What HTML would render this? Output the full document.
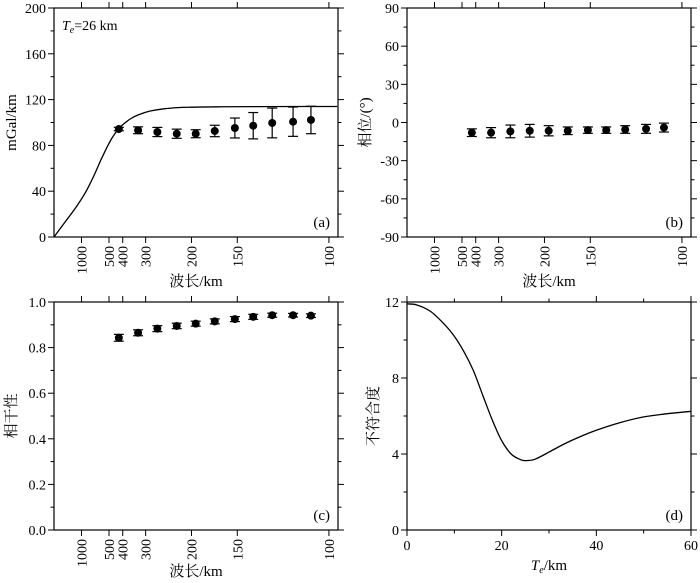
<!DOCTYPE html>
<html><head><meta charset="utf-8"><style>
body{margin:0;background:#fff}
svg{display:block;font-family:"Liberation Serif","Noto Serif CJK SC",serif}
</style></head><body>
<svg id="c" width="700" height="583" viewBox="0 0 700 583"></svg>
<script>
// Shared x data: wavelengths (km) of data points
const wavelengths=[424,327,266,224,194,171,152,138,126,115,107];
const wlTicks=[1000,500,400,300,200,150,100];
// Panel a
const admValues=[94.3,93.2,91.7,90.2,90.2,92.6,95.2,97.2,99.6,100.7,102.2];
const admErrors=[1.5,3,4,4,3.5,5,8.7,11.5,13,12.8,12];
const curveK=[0,0.0004,0.0008,0.0011,0.0013,0.0015,0.0017,0.0019,0.0021,0.0023,0.0025,0.0028,0.0031,0.0035,0.004,0.0045,0.005,0.006,0.0075,0.0103];
const curveVal=[0,13,26,37,46,56,67,77,86,93,98,103.5,107,110,112,113,113.4,113.7,113.9,114];
const aTicks=[0,40,80,120,160,200];
// Panel b
const phaseValues=[-8,-8,-7,-6.5,-6.5,-6.5,-6,-6,-5.5,-5,-4];
const phaseErrors=[3,4,5,5,4,3,2.5,2.5,3,3.5,3.5];
const bTicks=[-90,-60,-30,0,30,60,90];
// Panel c
const cohValues=[0.843,0.865,0.883,0.895,0.905,0.915,0.925,0.935,0.942,0.942,0.940];
const cohErrors=[0.015,0.013,0.013,0.012,0.011,0.011,0.011,0.011,0.009,0.008,0.008];
const cTicks=["0.0","0.2","0.4","0.6","0.8","1.0"];
// Panel d
const teValues=[0,2,5,8,10,12,14,16,18,20,22,24,25,27,30,33,36,40,45,50,55,60];
const misfitValues=[11.9,11.85,11.5,10.8,10.2,9.4,8.4,7.1,5.8,4.7,4.0,3.7,3.65,3.72,4.1,4.5,4.85,5.25,5.65,5.95,6.12,6.25];
const dTicks=[0,4,8,12];
const teTicks=[0,20,40,60];

const svg=document.getElementById('c');
const NS='http://www.w3.org/2000/svg';
function mk(tag,attrs,parent,text){const e=document.createElementNS(NS,tag);for(const k in attrs)e.setAttribute(k,attrs[k]);if(text!==undefined)e.textContent=text;(parent||svg).appendChild(e);return e;}
function smooth(pts){
  let d='M'+pts[0][0].toFixed(1)+','+pts[0][1].toFixed(1);
  for(let i=0;i<pts.length-1;i++){
    const p0=pts[Math.max(0,i-1)],p1=pts[i],p2=pts[i+1],p3=pts[Math.min(pts.length-1,i+2)];
    const c1=[p1[0]+(p2[0]-p0[0])/6,p1[1]+(p2[1]-p0[1])/6];
    const c2=[p2[0]-(p3[0]-p1[0])/6,p2[1]-(p3[1]-p1[1])/6];
    d+='C'+c1[0].toFixed(1)+','+c1[1].toFixed(1)+' '+c2[0].toFixed(1)+','+c2[1].toFixed(1)+' '+p2[0].toFixed(1)+','+p2[1].toFixed(1);
  }
  return d;
}

function panel(o){
  const g=mk('g',{});
  
  
  const X=v=>o.x0+(v-o.xmin)/(o.xmax-o.xmin)*(o.x1-o.x0);
  const Y=v=>o.y1-(v-o.ymin)/(o.ymax-o.ymin)*(o.y1-o.y0);
  const fr=mk('rect',{x:o.x0,y:o.y0,width:o.x1-o.x0,height:o.y1-o.y0,fill:'none',stroke:'#000','stroke-width':1.2},g);
  
  
  for(let v=o.ymin;v<=o.ymax+1e-9;v+=o.yminor){
    const major=Math.abs(((v-o.ymin)/o.ystep)-Math.round((v-o.ymin)/o.ystep))<1e-6;
    const L=major?6:3.5;
    mk('line',{x1:o.x0-L,x2:o.x0,y1:Y(v),y2:Y(v),stroke:'#000'},g);
    mk('line',{x1:o.x1,x2:o.x1+L,y1:Y(v),y2:Y(v),stroke:'#000'},g);
  }
  o.ylabels.forEach(t=>{
    const lab=mk('text',{x:o.x0-8,y:Y(parseFloat(t))+5,'text-anchor':'end','font-size':14},g,t);
    
    
  });
  o.xticks.forEach(v=>{
    mk('line',{x1:X(v),x2:X(v),y1:o.y1,y2:o.y1+6,stroke:'#000'},g);
    mk('line',{x1:X(v),x2:X(v),y1:o.y0-6,y2:o.y0,stroke:'#000'},g);
  });
  (o.xminor||[]).forEach(v=>{
    mk('line',{x1:X(v),x2:X(v),y1:o.y1,y2:o.y1+3.5,stroke:'#000'},g);
    mk('line',{x1:X(v),x2:X(v),y1:o.y0-3.5,y2:o.y0,stroke:'#000'},g);
  });
  o.xlabels.forEach((t,i)=>{
    const v=o.xticks[i];let lab;
    if(o.rot){lab=mk('text',{x:0,y:0,'text-anchor':'end','font-size':14,transform:`translate(${X(v)+5},${o.y1+9}) rotate(-90)`},g,t);}
    else{lab=mk('text',{x:X(v),y:o.y1+20,'text-anchor':'middle','font-size':14},g,t);}
    
    
  });
  const xt=mk('text',{x:(o.x0+o.x1)/2,y:o.xtY,'text-anchor':'middle','font-size':15},g);
  
  
  if(o.teTitle){mk('tspan',{'font-style':'italic'},xt,'T');mk('tspan',{'font-size':10,dy:3,'font-style':'italic'},xt,'e');mk('tspan',{dy:-3},xt,'/km');}
  else xt.textContent=o.xtitle;
  const yc=(o.y0+o.y1)/2;
  const yt=mk('text',{x:0,y:0,'text-anchor':'middle','font-size':15,transform:`translate(${o.ytX},${yc}) rotate(-90)`},g,o.ytitle);
  
  
  const pl=mk('text',{x:o.x1-8,y:o.y1-10,'text-anchor':'end','font-size':15},g,o.tag);
  
  
  return {g,X,Y};
}
function points(p,xs,vals,errs,name){
  vals.forEach((v,i)=>{
    const gg=mk('g',{},p.g);
    
    
    const x=p.X(xs[i]),yt=p.Y(v+errs[i]),yb=p.Y(v-errs[i]);
    mk('line',{x1:x,x2:x,y1:yt,y2:yb,stroke:'#000','stroke-width':1.2},gg);
    mk('line',{x1:x-5,x2:x+5,y1:yt,y2:yt,stroke:'#000','stroke-width':1.2},gg);
    mk('line',{x1:x-5,x2:x+5,y1:yb,y2:yb,stroke:'#000','stroke-width':1.2},gg);
    mk('circle',{cx:x,cy:p.Y(v),r:4,fill:'#000'},gg);
  });
}
const kMax=0.01033;
const wk=wlTicks.map(w=>1/w), ptsK=wavelengths.map(w=>1/w);
const wlLabels=wlTicks.map(String);

const a=panel({name:'panel-a-admittance',x0:54,x1:338,y0:8,y1:237,xmin:0,xmax:kMax,ymin:0,ymax:200,ystep:40,yminor:20,
  ylabels:aTicks.map(String),xticks:wk,xlabels:wlLabels,rot:true,xtitle:'波长/km',xtY:286,ytitle:'mGal/km',ytX:16,tag:'(a)'});
const te=mk('text',{x:62,y:30,'font-size':14},a.g);


mk('tspan',{'font-style':'italic'},te,'T');mk('tspan',{'font-size':10,dy:3,'font-style':'italic'},te,'e');mk('tspan',{dy:-3},te,'=26 km');
const cp=mk('path',{d:smooth(curveK.map((k,i)=>[a.X(k),a.Y(curveVal[i])])),fill:'none',stroke:'#000','stroke-width':1.3},a.g);


points(a,ptsK,admValues,admErrors,'admittance');

const b=panel({name:'panel-b-phase',x0:407,x1:691,y0:8,y1:237,xmin:0,xmax:kMax,ymin:-90,ymax:90,ystep:30,yminor:15,
  ylabels:bTicks.map(String),xticks:wk,xlabels:wlLabels,rot:true,xtitle:'波长/km',xtY:286,ytitle:'相位/(°)',ytX:370,tag:'(b)'});
points(b,ptsK,phaseValues,phaseErrors,'phase');

const c=panel({name:'panel-c-coherence',x0:54,x1:338,y0:302,y1:530,xmin:0,xmax:kMax,ymin:0,ymax:1,ystep:0.2,yminor:0.1,
  ylabels:cTicks,xticks:wk,xlabels:wlLabels,rot:true,xtitle:'波长/km',xtY:576,ytitle:'相干性',ytX:16,tag:'(c)'});
points(c,ptsK,cohValues,cohErrors,'coherence');

const d=panel({name:'panel-d-misfit',x0:407,x1:691,y0:302,y1:530,xmin:0,xmax:60,ymin:0,ymax:12,ystep:4,yminor:2,
  ylabels:dTicks.map(String),xticks:teTicks,xminor:[10,30,50],xlabels:teTicks.map(String),rot:false,teTitle:true,xtY:570,ytitle:'不符合度',ytX:378,tag:'(d)'});
const dp=mk('path',{d:smooth(teValues.map((t,i)=>[d.X(t),d.Y(misfitValues[i])])),fill:'none',stroke:'#000','stroke-width':1.3,'stroke-linejoin':'round'},d.g);


</script>
</body></html>
